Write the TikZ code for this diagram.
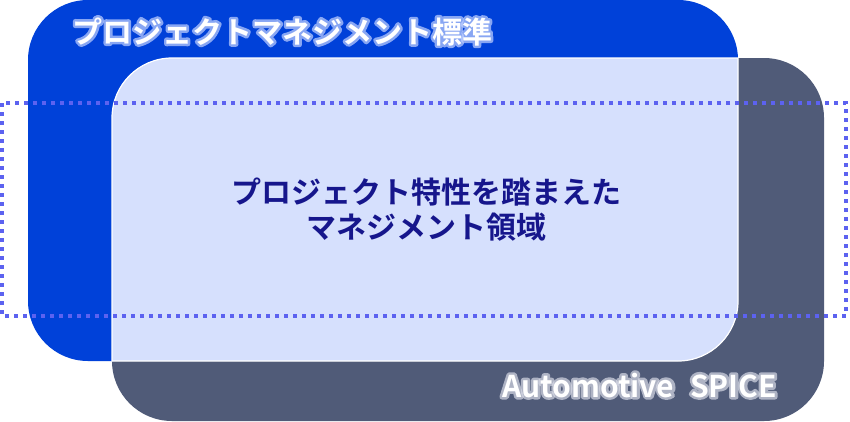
\documentclass[tikz,border=0pt]{standalone}
\usepackage{fontspec}
\setmainfont{Noto Sans CJK JP}[BoldFont={Noto Sans CJK JP Bold}]
\usetikzlibrary{positioning}

\definecolor{stdblue}{HTML}{0041D9}
\definecolor{aspicegray}{HTML}{505B78}
\definecolor{overlapfill}{HTML}{D6E0FD}
\definecolor{dotline}{HTML}{5C62F0}
\definecolor{textnavy}{HTML}{16168C}

% outline (stroke only) text for the soft glow
\newcommand{\glowstroke}[2]{\special{pdf:literal direct 1 Tr #1 w 1 J 1 j #2 RG}}
\newcommand{\glowreset}{\special{pdf:literal direct 0 Tr}}

\begin{document}
\begin{tikzpicture}[x=1pt, y=-1pt,
    area/.style={rounded corners=60pt},
    titletext/.style={font=\bfseries\fontsize{30}{36}\selectfont, inner sep=0pt},
    coretext/.style={font=\bfseries\fontsize{30}{35}\selectfont, text=textnavy, align=center, inner sep=0pt},
    spicetext/.style={font=\bfseries\fontsize{30}{36}\selectfont, inner sep=0pt}]

    \useasboundingbox (0,0) rectangle (850,421);

    % the two areas
    \path[area, fill=stdblue] (28,0) rectangle (738,361);
    \path[area, fill=aspicegray] (112,58) rectangle (824,421);

    % overlap of both areas
    \begin{scope}
        \clip[area] (28,0) rectangle (738,361);
        \path[area, fill=overlapfill, draw=white, line width=1.2pt] (112,58) rectangle (824,421);
    \end{scope}
    \begin{scope}
        \clip[area] (112,58) rectangle (824,421);
        \path[area, draw=white, line width=1.2pt] (28,0) rectangle (738,361);
    \end{scope}

    % dotted frame
    \draw[dotline, line width=3.8pt, dash pattern=on 4pt off 5pt] (2,103) rectangle (846,316);

    % glow behind the white labels
    \node[titletext, anchor=base west, opacity=0.7] at (72,43) {\glowstroke{5}{0.76 0.82 1}プロジェクトマネジメント標準\glowreset};
    \node[spicetext, anchor=base east, opacity=0.7] at (777,397) {\glowstroke{5}{0.84 0.85 0.9}Automotive\hspace{0.3em} SPICE\glowreset};

    % labels
    \node (stdlabel) [titletext, text=white, anchor=base west] at (72,43) {プロジェクトマネジメント標準};
    \node (spicelabel) [spicetext, text=white, anchor=base east] at (777,397) {Automotive\hspace{0.3em} SPICE};
    \node (corelabel) [coretext, anchor=center] at (426,210) {プロジェクト特性を踏まえた\\マネジメント領域};

\end{tikzpicture}
\end{document}
